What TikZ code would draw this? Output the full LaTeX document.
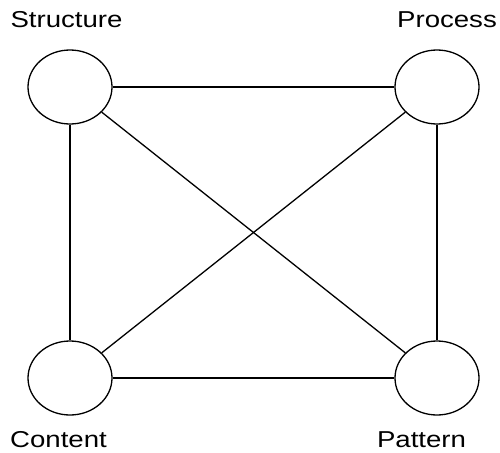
\documentclass[tikz,border=0pt]{standalone}
\usepackage{fontspec}
\setmainfont{Liberation Sans}
\usetikzlibrary{shapes.geometric}

\tikzset{
	corner/.style={draw, ellipse, line width=1.3pt, minimum width=84pt, minimum height=74pt, inner sep=0pt},
	tag/.style={anchor=base, inner sep=0pt, font=\fontsize{23}{27}\selectfont},
	link/.style={line width=1.3pt}
}

\begin{document}
\begin{tikzpicture}[x=1pt, y=-1pt]
		\useasboundingbox (0, 0) rectangle (500, 452);

		\node[corner] (structure) at (70, 87) {};
		\node[corner] (process) at (437, 87) {};
		\node[corner] (content) at (70, 378) {};
		\node[corner] (pattern) at (437, 378) {};

		\node[tag] (structuretag) at (66.5, 28) {\scalebox{1.2}[1]{Structure}};
		\node[tag] (processtag) at (447, 28) {\scalebox{1.2}[1]{Process}};
		\node[tag] (contenttag) at (58.5, 447) {\scalebox{1.2}[1]{Content}};
		\node[tag] (patterntag) at (421.5, 447) {\scalebox{1.2}[1]{Pattern}};

		\draw[link] (structure) -- (process);
		\draw[link] (structure) -- (content);
		\draw[link] (process) -- (pattern);
		\draw[link] (content) -- (pattern);
		\draw[link] (structure) -- (pattern);
		\draw[link] (process) -- (content);
	\end{tikzpicture}
\end{document}
